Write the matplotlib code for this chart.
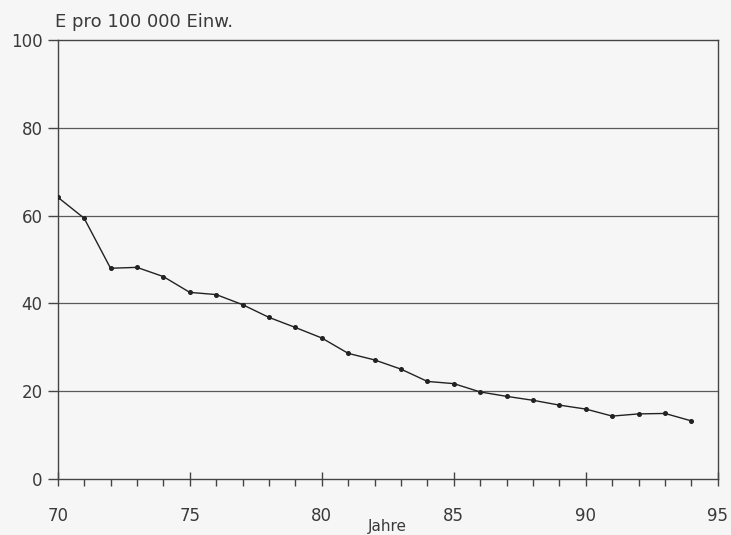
import matplotlib
matplotlib.use("Agg")
import matplotlib.pyplot as plt
from matplotlib.ticker import MultipleLocator

years = [70, 71, 72, 73, 74, 75, 76, 77, 78, 79, 80, 81, 82, 83, 84, 85,
         86, 87, 88, 89, 90, 91, 92, 93, 94]
values = [64.2, 59.4, 48.0, 48.2, 46.1, 42.5, 42.0, 39.7, 36.8, 34.5, 32.1,
          28.6, 27.1, 25.0, 22.2, 21.7, 19.8, 18.8, 17.9, 16.8, 15.9, 14.3,
          14.8, 14.9, 13.2]
x_ticks = [70, 75, 80, 85, 90, 95]
y_ticks = [0, 20, 40, 60, 80, 100]

bg = "#f6f6f6"
ink = "#3a3a3a"

fig = plt.figure(figsize=(7.31, 5.35), dpi=100, facecolor=bg)
ax = fig.add_axes([0.079, 0.105, 0.903, 0.82], facecolor=bg)

for yv in y_ticks[1:-1]:
    ax.axhline(yv, color="#5a5a5a", lw=0.9, zorder=1)

ax.plot(years, values, color="#222222", lw=1.0, marker="o", ms=2.6,
        zorder=3)

ax.set_xlim(70, 95)
ax.set_ylim(0, 100)
ax.set_xticks(x_ticks)
ax.set_yticks(y_ticks)
ax.xaxis.set_minor_locator(MultipleLocator(1))

for s in ax.spines.values():
    s.set_color("#444444")
    s.set_linewidth(1.0)

ax.tick_params(axis="x", which="major", direction="inout", length=10,
               width=1.0, color="#444444", labelsize=12, labelcolor=ink, pad=15)
ax.tick_params(axis="x", which="minor", direction="out", length=5,
               width=1.0, color="#444444")
ax.tick_params(axis="y", which="major", direction="out", length=7,
               width=1.0, color="#444444", labelsize=12, labelcolor=ink, pad=4)

ax.set_xlabel("Jahre", fontsize=11, color=ink, labelpad=-4)
fig.text(0.075, 0.958, "E pro 100 000 Einw.", fontsize=13, color=ink,
         ha="left", va="center")

fig.savefig("out.png", dpi=100, facecolor=bg)
